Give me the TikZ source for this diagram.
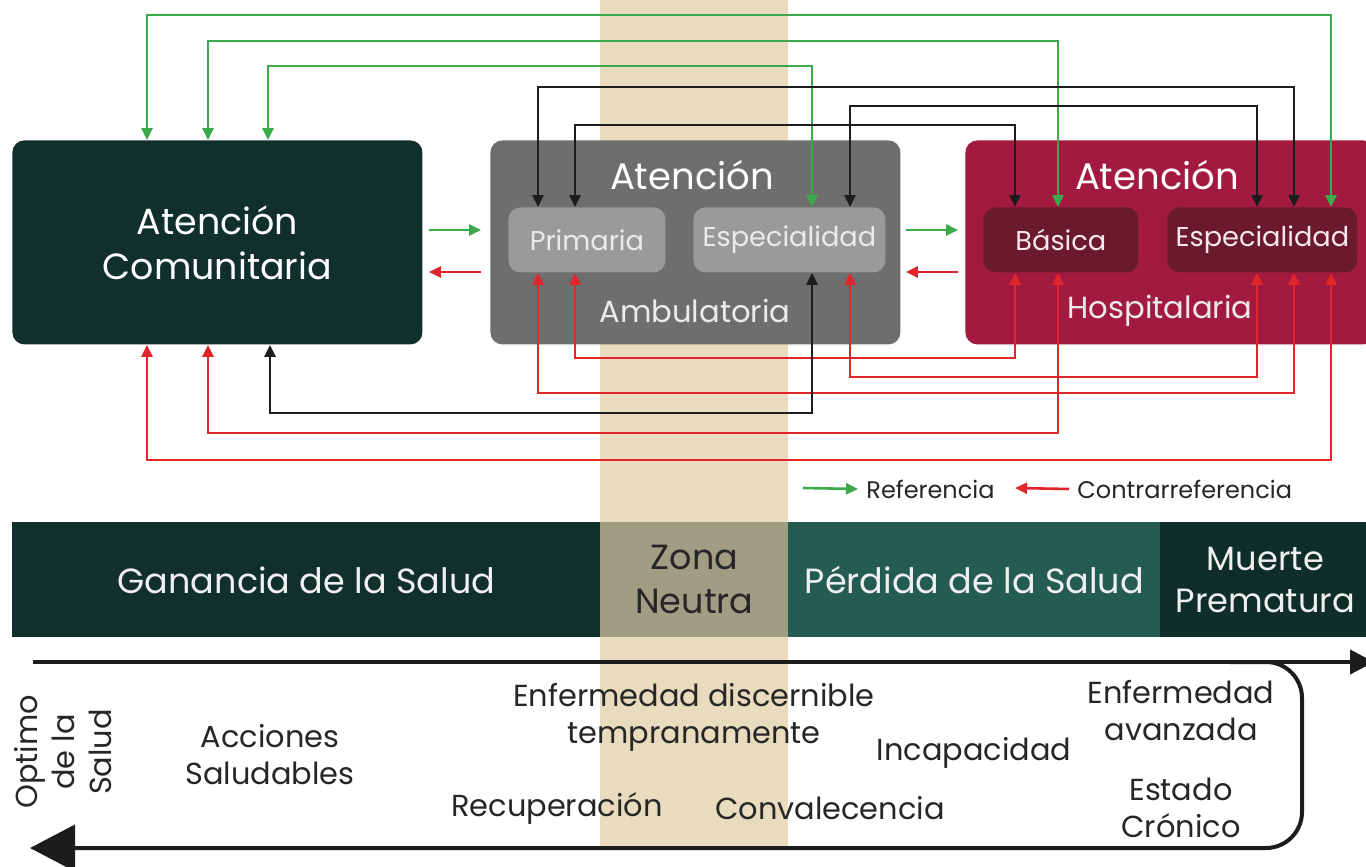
\documentclass[tikz,border=0pt]{standalone}
\usepackage{fontspec}
\setmainfont{Poppins}
\usepackage{xcolor}
\usetikzlibrary{arrows.meta}

\definecolor{comgreen}{HTML}{12302B}
\definecolor{ambgray}{HTML}{6E6E6E}
\definecolor{subgray}{HTML}{9A9A9A}
\definecolor{hospred}{HTML}{A31A40}
\definecolor{subred}{HTML}{6B1A2E}
\definecolor{tanzone}{HTML}{E9DBBD}
\definecolor{neutral}{HTML}{A09D84}
\definecolor{lossgreen}{HTML}{245C51}
\definecolor{deathgreen}{HTML}{0F2E28}
\definecolor{refgreen}{HTML}{3BAA4A}
\definecolor{contrared}{HTML}{E0262B}
\definecolor{linkblack}{HTML}{1C1C1C}
\definecolor{inktext}{HTML}{262626}

\newcommand{\fsz}[2]{\fontsize{#1}{#2}\selectfont}

\begin{document}
\begin{tikzpicture}[x=0.5pt, y=-0.5pt,
	box/.style={rounded corners=6pt, anchor=north west, inner sep=0pt, text=white, align=center},
	subbox/.style={rounded corners=6pt, anchor=north west, minimum height=32.5pt, inner sep=0pt, font=\fsz{13.6}{16}},
	band/.style={anchor=north west, minimum height=57.5pt, inner sep=0pt, align=center, text=white!94!black, font=\fsz{17.5}{22}},
	label/.style={align=center, text=inktext, font=\fsz{15.2}{18.5}},
	tip/.style={-{Triangle[length=6pt,width=5.5pt]}},
	link/.style={line width=1.3pt, {Triangle[length=6pt,width=5.5pt]}-{Triangle[length=6pt,width=5.5pt]}},
	refline/.style={link, refgreen},
	contraline/.style={link, contrared},
	blackline/.style={link, linkblack},
	timeline/.style={line width=2pt, linkblack}]

	\useasboundingbox (0,0) rectangle (1366,867);
	\fill[white] (0,0) rectangle (1366,867);
	% neutral zone stripe
	\fill[tanzone] (600,0) rectangle (788,848);

	% care levels
	\node[box, fill=comgreen, minimum width=205pt, minimum height=102pt, font=\fsz{18.2}{22.5}] (com) at (12,140) {Atención\\Comunitaria};
	\node[box, fill=ambgray, minimum width=205pt, minimum height=102pt] (amb) at (490,140) {};
	\node[box, fill=hospred, minimum width=205pt, minimum height=102pt] (hosp) at (965,140) {};
	\node[text=white, font=\fsz{18.5}{20}] (ambtitle) at (692,175) {Atención};
	\node[text=white, font=\fsz{18.5}{20}] (hosptitle) at (1157,175) {Atención};
	\node[text=white!92!black, font=\fsz{15.3}{17}] (ambname) at (695,311) {Ambulatoria};
	\node[text=white!92!black, font=\fsz{15.3}{17}] (hospname) at (1160,311) {Hospitalaria};
	\node[subbox, fill=subgray, text=white!92!black, minimum width=78.5pt] (prim) at (508,207) {Primaria};
	\node[subbox, fill=subgray, text=white!92!black, minimum width=96pt] (aesp) at (693,207) {Especialidad};
	\node[subbox, fill=subred, text=white!90!hospred, minimum width=77.5pt] (bas) at (983,207) {Básica};
	\node[subbox, fill=subred, text=white!90!hospred, minimum width=95pt] (hesp) at (1167,207) {Especialidad};

	% referencia (top)
	\draw[refline] (com.north-|147,0) -- (147,15) -| (hesp.north-|1331,0);
	\draw[refline] (com.north-|208,0) -- (208,41) -| (bas.north-|1058,0);
	\draw[refline] (com.north-|268,0) -- (268,66) -| (aesp.north-|812,0);
	\draw[blackline] (prim.north-|538,0) -- (538,87) -| (hesp.north-|1294,0);
	\draw[blackline] (aesp.north-|850,0) -- (850,106) -| (hesp.north-|1257,0);
	\draw[blackline] (prim.north-|575,0) -- (575,125) -| (bas.north-|1015,0);

	% contrarreferencia (bottom)
	\draw[contraline] (prim.south-|575,0) -- (575,358) -| (bas.south-|1015,0);
	\draw[contraline] (aesp.south-|850,0) -- (850,377) -| (hesp.south-|1257,0);
	\draw[contraline] (prim.south-|538,0) -- (538,393) -| (hesp.south-|1294,0);
	\draw[blackline] (com.south-|270,0) -- (270,413) -| (aesp.south-|812,0);
	\draw[contraline] (com.south-|208,0) -- (208,433) -| (bas.south-|1058,0);
	\draw[contraline] (com.south-|147,0) -- (147,460) -| (hesp.south-|1331,0);

	% between levels
	\draw[tip, refgreen, line width=1.3pt, shorten <=3pt, shorten >=4.5pt] (com.east|-0,230) -- (amb.west|-0,230);
	\draw[tip, contrared, line width=1.3pt, shorten <=4.5pt, shorten >=3pt] (amb.west|-0,272) -- (com.east|-0,272);
	\draw[tip, refgreen, line width=1.3pt, shorten <=2.5pt, shorten >=3.5pt] (amb.east|-0,230) -- (hosp.west|-0,230);
	\draw[tip, contrared, line width=1.3pt, shorten <=3.5pt, shorten >=2.5pt] (hosp.west|-0,272) -- (amb.east|-0,272);

	% legend
	\node[anchor=west, text=inktext, font=\fsz{12}{14}, inner sep=0pt] (lref) at (866,489) {Referencia};
	\node[anchor=west, text=inktext, font=\fsz{12}{14}, inner sep=0pt] (lcontra) at (1077,489) {Contrarreferencia};
	\coordinate (lrefstart) at (803,488);
	\coordinate (lcontraend) at (1015,488);
	\draw[tip, refgreen, line width=1.3pt] (lrefstart) -- ([xshift=-4pt]lref.west);
	\draw[tip, contrared, line width=1.3pt] ([xshift=-4pt]lcontra.west) -- (lcontraend);

	% health bands
	\node[band, fill=comgreen, minimum width=294pt] (gain) at (12,522) {Ganancia de la Salud};
	\node[band, fill=neutral, minimum width=94pt, text=inktext] (zona) at (600,522) {Zona\\Neutra};
	\node[band, fill=lossgreen, minimum width=186pt] (loss) at (788,522) {Pérdida de la Salud};
	\node[band, fill=deathgreen, minimum width=105pt, font=\fsz{16.8}{21}] (death) at (1160,522) {Muerte\\Prematura};

	% timeline
	\coordinate (tstart) at (33,662);
	\coordinate (tend) at (1374,662);
	\coordinate (tback) at (30,848);
	\draw[timeline, -{Triangle[length=12pt,width=12pt]}] (tstart) -- (tend);
	\draw[timeline, rounded corners=18pt, -{Triangle[length=22.5pt,width=23pt]}] (1230,662) -- (1302,662) -- (1302,848) -- (tback);

	\node[label, rotate=90] (optimo) at (63,752) {Optimo\\de la\\Salud};
	\node[label] (acciones) at (270,755) {Acciones\\Saludables};
	\node[label] (enfdisc) at (694,717) {Enfermedad discernible\\tempranamente};
	\node[label] (recup) at (557,808) {Recuperación};
	\node[label] (conval) at (830,808) {Convalecencia};
	\node[label] (incap) at (974,753) {Incapacidad};
	\node[label] (enfav) at (1181,711) {Enfermedad\\avanzada};
	\node[label] (cronico) at (1181,808) {Estado\\Crónico};
\end{tikzpicture}
\end{document}
